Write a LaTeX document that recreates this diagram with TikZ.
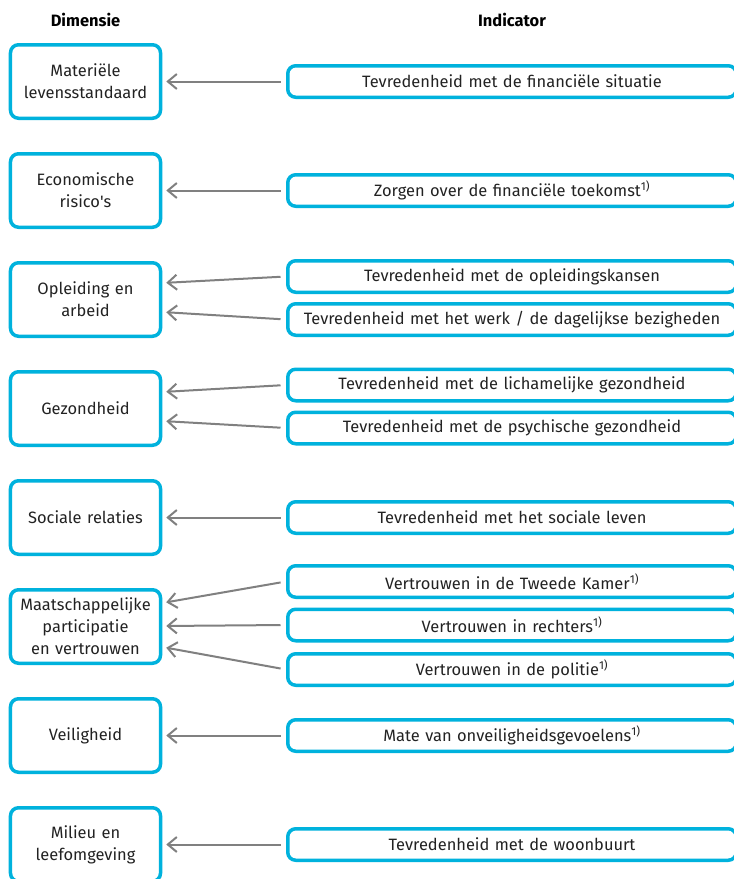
\documentclass[tikz,border=0pt]{standalone}
\usepackage{fontspec}
\setmainfont{Fira Sans}
\newfontfamily\plainfira{Fira Sans}
\usetikzlibrary{arrows.meta, positioning}

\definecolor{cbsblue}{RGB}{0,178,221}
\definecolor{arrowgray}{RGB}{128,128,128}
\definecolor{textgray}{RGB}{34,34,34}

\begin{document}
\begin{tikzpicture}[
    x=1bp, y=-1bp,
    font=\fontsize{16.5}{22}\selectfont,
    text=textgray,
    dim/.style={rectangle, draw=cbsblue, line width=3.5bp, rounded corners=8bp, fill=white, minimum width=150bp, minimum height=73.5bp, text width=148bp, align=center, inner sep=0pt},
    ind/.style={rectangle, draw=cbsblue, line width=3.5bp, rounded corners=8bp, fill=white, minimum width=448.5bp, minimum height=31.5bp, text width=440bp, align=center, inner sep=0pt},
    head/.style={font=\fontsize{16.5}{22}\selectfont\bfseries, text=black},
    conn/.style={-{Straight Barb[length=9bp, width=15bp, line width=2bp]}, line width=2bp, arrowgray, shorten >=4bp, shorten <=5.5bp}
]

% White Background, clipped to the page
\clip (0,0) rectangle (734,879);
\path [fill=white] (0,0) rectangle (734,879);

% ==================== HEADERS ====================
\node[head] (h_dim) at (85.5, 20) {Dimensie};
\node[head] (h_ind) at (512, 20) {Indicator};

% ==================== DIMENSIONS ====================
\node[dim] (mat)  at (85.5, 81.5)  {Materiële\\levensstandaard};
\node[dim] (eco)  at (85.5, 190.5) {Economische\\risico{\plainfira'}s};
\node[dim] (opl)  at (85.5, 299.5) {Opleiding en\\arbeid};
\node[dim] (gez)  at (85.5, 408.5) {Gezondheid};
\node[dim] (soc)  at (85.5, 517.5) {Sociale relaties};
\node[dim] (maat) at (85.5, 626.5) {Maatschappelijke\\participatie\\en vertrouwen};
\node[dim] (vei)  at (85.5, 735.5) {Veiligheid};
\node[dim] (mil)  at (85.5, 844.5) {Milieu en\\leefomgeving};

% ==================== INDICATORS ====================
\node[ind] (i_fin)  at (512, 81.5)  {Tevredenheid met de financiële situatie};
\node[ind] (i_zorg) at (512, 190.5) {Zorgen over de financiële toekomst\textsuperscript{1)}};

\node[ind] (i_opl)  at (512, 276.5) {Tevredenheid met de opleidingskansen};
\node[ind] (i_werk) at (512, 319.5) {Tevredenheid met het werk / de dagelijkse bezigheden};

\node[ind] (i_lich) at (512, 385)   {Tevredenheid met de lichamelijke gezondheid};
\node[ind] (i_psy)  at (512, 428)   {Tevredenheid met de psychische gezondheid};

\node[ind] (i_soc)  at (512, 517.5) {Tevredenheid met het sociale leven};

\node[ind] (i_tk)   at (512, 581.5) {Vertrouwen in de Tweede Kamer\textsuperscript{1)}};
\node[ind] (i_rech) at (512, 625)   {Vertrouwen in rechters\textsuperscript{1)}};
\node[ind] (i_pol)  at (512, 669.5) {Vertrouwen in de politie\textsuperscript{1)}};

\node[ind] (i_onv)  at (512, 735.5) {Mate van onveiligheidsgevoelens\textsuperscript{1)}};
\node[ind] (i_woon) at (512, 844.5) {Tevredenheid met de woonbuurt};

% ==================== CONNECTORS ====================
\draw[conn] (i_fin.west) -- (mat.east);
\draw[conn] (i_zorg.west) -- (eco.east);

\draw[conn] (i_opl.west) -- ([yshift=16.5bp]opl.east);
\draw[conn] (i_werk.west) -- ([yshift=-12.5bp]opl.east);

\draw[conn] (i_lich.west) -- ([yshift=16.5bp]gez.east);
\draw[conn] (i_psy.west) -- ([yshift=-12.5bp]gez.east);

\draw[conn] (i_soc.west) -- (soc.east);

\draw[conn] (i_tk.west) -- ([yshift=23.5bp]maat.east);
\draw[conn] (i_rech.west) -- ([yshift=0.5bp]maat.east);
\draw[conn] (i_pol.west) -- ([yshift=-20.5bp]maat.east);

\draw[conn] (i_onv.west) -- (vei.east);
\draw[conn] (i_woon.west) -- (mil.east);

\end{tikzpicture}
\end{document}
